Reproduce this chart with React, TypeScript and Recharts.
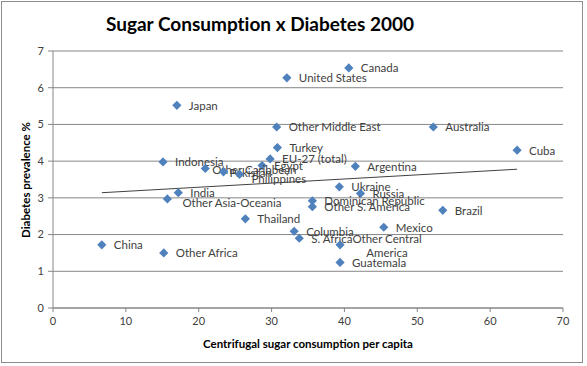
import React from "react";
import {
  ScatterChart,
  Scatter,
  XAxis,
  YAxis,
  CartesianGrid,
  ReferenceLine,
} from "recharts";

const countries = [
  "Canada", "United States", "Japan", "Other Middle East", "Australia",
  "Turkey", "Cuba", "EU-27 (total)", "Indonesia", "Argentina",
  "Egypt", "Other Caribbean", "Pakistan", "Philippines", "Ukraine",
  "Russia", "India", "Other Asia-Oceania", "Dominican Republic", "Other S. America",
  "Brazil", "Thailand", "Mexico", "Columbia", "S. Africa",
  "Other Central America", "Guatemala", "China", "Other Africa",
];
const sugarPerCapita = [
  40.6, 32.1, 17.0, 30.7, 52.2,
  30.8, 63.7, 29.8, 15.1, 41.5,
  28.7, 20.9, 23.4, 25.6, 39.3,
  42.2, 17.2, 15.7, 35.6, 35.6,
  53.5, 26.4, 45.4, 33.1, 33.8,
  39.4, 39.4, 6.7, 15.2,
];
const diabetesPct = [
  6.54, 6.27, 5.52, 4.93, 4.93,
  4.37, 4.3, 4.06, 3.98, 3.86,
  3.88, 3.8, 3.71, 3.64, 3.3,
  3.12, 3.14, 2.97, 2.92, 2.76,
  2.66, 2.43, 2.2, 2.09, 1.9,
  1.72, 1.24, 1.72, 1.5,
];
// linear trend, ends
const trendX = [6.7, 63.7];
const trendY = [3.14, 3.78];
const xTicks = [0, 10, 20, 30, 40, 50, 60, 70];
const yTicks = [0, 1, 2, 3, 4, 5, 6, 7];

const points = countries.map((name, i) => ({
  name,
  x: sugarPerCapita[i],
  y: diabetesPct[i],
}));

// a few labels sit slightly off the default spot
const nudge: Record<string, [number, number]> = {
  "Other Caribbean": [-5, 1],
  Pakistan: [-6, 1],
  Philippines: [0, 4],
  "Other Asia-Oceania": [3, 4],
};
const wrapped: Record<string, string[]> = {
  "Other Central America": ["Other Central", "America"],
};

const FONT = "Lato, 'Open Sans', sans-serif";
const GREY = "#868686";

function Diamond(props: any) {
  const { cx, cy, payload } = props;
  const [dx, dy] = nudge[payload.name] || [0, 0];
  const lines = wrapped[payload.name];
  const r = 4.6;
  return (
    <g>
      <polygon
        points={`${cx},${cy - r} ${cx + r},${cy} ${cx},${cy + r} ${cx - r},${cy}`}
        fill="#4F81BD"
      />
      {lines ? (
        <text
          x={cx + 47}
          y={cy - 7}
          textAnchor="middle"
          fontSize={11.5}
          fill="#404040"
          fontFamily={FONT}
          dominantBaseline="central"
        >
          {lines.map((l, k) => (
            <tspan key={k} x={cx + 47} dy={k === 0 ? 0 : 14}>
              {l}
            </tspan>
          ))}
        </text>
      ) : (
        <text
          x={cx + 12 + dx}
          y={cy + dy}
          fontSize={11.5}
          fill="#404040"
          fontFamily={FONT}
          dominantBaseline="central"
        >
          {payload.name}
        </text>
      )}
    </g>
  );
}

export default function App() {
  const tickStyle = { fontSize: 11, fill: "#404040", fontFamily: FONT };
  return (
    <div style={{ position: "absolute", left: 0, top: 0, width: 587, height: 366, background: "#fff" }}>
      <div
        style={{
          position: "absolute",
          left: 1,
          top: 1,
          width: 580,
          height: 360,
          border: "1px solid #8c8c8c",
        }}
      />
      <div
        style={{
          position: "absolute",
          left: 0,
          width: 520,
          top: 12,
          textAlign: "center",
          fontFamily: FONT,
          fontWeight: 700,
          fontSize: 19,
          color: "#000",
          fontVariantLigatures: "none",
        }}
      >
        Sugar Consumption x Diabetes 2000
      </div>
      <div style={{ position: "absolute", left: 0, top: 0 }}>
        <ScatterChart
          width={587}
          height={366}
          margin={{ top: 51, right: 24, bottom: 0, left: 0 }}
        >
          <CartesianGrid vertical={false} stroke={GREY} strokeWidth={1} />
          <XAxis
            type="number"
            dataKey="x"
            domain={[0, 70]}
            ticks={xTicks}
            height={58}
            stroke={GREY}
            tickSize={4}
            tickMargin={5}
            tick={tickStyle}
            label={{
              content: () => (
                <text
                  x={308}
                  y={343}
                  textAnchor="middle"
                  dominantBaseline="central"
                  fontSize={11.5}
                  fontWeight={700}
                  fill="#000"
                  fontFamily={FONT}
                >
                  Centrifugal sugar consumption per capita
                </text>
              ),
            }}
          />
          <YAxis
            type="number"
            dataKey="y"
            domain={[0, 7]}
            ticks={yTicks}
            width={53}
            stroke={GREY}
            tickSize={5}
            tickMargin={4}
            tick={tickStyle}
            label={{
              content: () => (
                <text
                  x={25}
                  y={180}
                  transform="rotate(-90 25 180)"
                  textAnchor="middle"
                  dominantBaseline="central"
                  fontSize={11.5}
                  fontWeight={700}
                  fill="#000"
                  fontFamily={FONT}
                >
                  Diabetes prevalence %
                </text>
              ),
            }}
          />
          <ReferenceLine
            segment={[
              { x: trendX[0], y: trendY[0] },
              { x: trendX[1], y: trendY[1] },
            ]}
            stroke="#404040"
            strokeWidth={1}
          />
          <Scatter
            data={points}
            shape={<Diamond />}
            isAnimationActive={false}
          />
        </ScatterChart>
      </div>
    </div>
  );
}
